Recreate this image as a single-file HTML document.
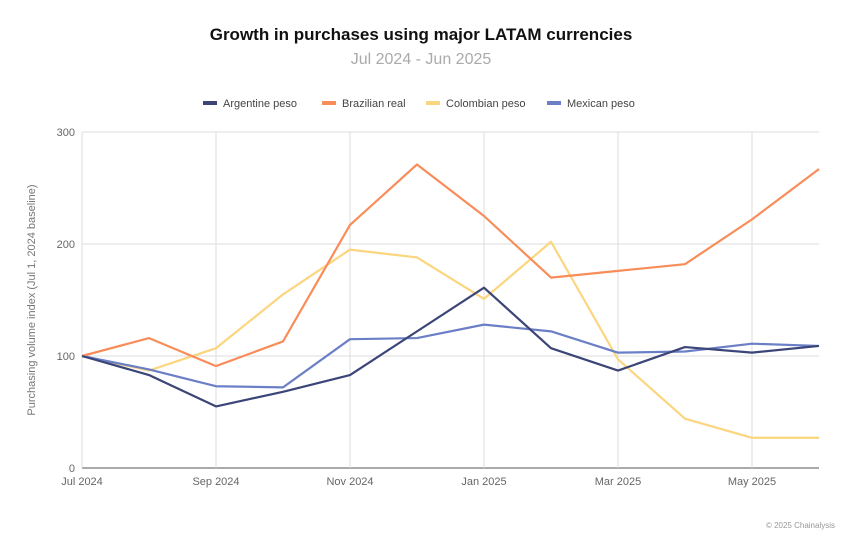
<!DOCTYPE html>
<html><head><meta charset="utf-8">
<style>
body{margin:0;background:#fff;font-family:"Liberation Sans",sans-serif;}
#wrap{position:relative;width:847px;height:552px;overflow:hidden;}
</style></head>
<body>
<div id="wrap">
<svg id="chart" width="847" height="552">
<text x="421" y="40" text-anchor="middle" font-size="17" font-weight="bold" fill="#111">Growth in purchases using major LATAM currencies</text>
<text x="421" y="64" text-anchor="middle" font-size="16" fill="#aaa">Jul 2024 - Jun 2025</text>
<g id="legend"></g>
<g id="grid"></g>
<g id="series"></g>
<text transform="translate(35,300) rotate(-90)" text-anchor="middle" font-size="11" fill="#777">Purchasing volume index (Jul 1, 2024 baseline)</text>
<text x="835" y="528" text-anchor="end" font-size="8" fill="#999">© 2025 Chainalysis</text>
</svg>
</div>
<script>
const months=["Jul 2024","Aug 2024","Sep 2024","Oct 2024","Nov 2024","Dec 2024","Jan 2025","Feb 2025","Mar 2025","Apr 2025","May 2025","Jun 2025"];
const tickLabels=["Jul 2024","Sep 2024","Nov 2024","Jan 2025","Mar 2025","May 2025"];
const yTicks=[0,100,200,300];
const seriesNames=["Argentine peso","Brazilian real","Colombian peso","Mexican peso"];
const argentine=[100,83,55,68,83,122,161,107,87,108,103,109];
const brazilian=[100,116,91,113,217,271,225,170,176,182,222,267];
const colombian=[100,87,107,155,195,188,151,202,97,44,27,27];
const mexican=[100,88,73,72,115,116,128,122,103,104,111,109];
const colors=["#3b4577","#f98d5a","#fcd57f","#6b7fc6"];
const NS="http://www.w3.org/2000/svg";
const x0=82,x1=819,yTop=132,yBot=468,yMax=300;
const xs=i=>x0+(x1-x0)*i/(months.length-1);
const ys=v=>yBot-(yBot-yTop)*v/yMax;
function mk(t,a,p){const e=document.createElementNS(NS,t);for(const k in a)e.setAttribute(k,a[k]);p.appendChild(e);return e;}
const grid=document.getElementById('grid');
yTicks.forEach(v=>{
 const l=mk('line',{x1:x0,x2:x1,y1:ys(v),y2:ys(v),stroke:v===0?'#555':'#ddd','stroke-width':1},grid);
 
 
 const t=mk('text',{x:x0-7,y:ys(v)+4,'text-anchor':'end','font-size':11,fill:'#666'},grid);
 t.textContent=v;
 
 
});
tickLabels.forEach(lb=>{
 const i=months.indexOf(lb);
 const l=mk('line',{x1:xs(i),x2:xs(i),y1:yTop,y2:yBot,stroke:'#ddd','stroke-width':1},grid);
 
 
 const t=mk('text',{x:xs(i),y:yBot+17,'text-anchor':'middle','font-size':11,fill:'#666'},grid);
 t.textContent=lb;
 
 
});
const data=[argentine,brazilian,colombian,mexican];
const sg=document.getElementById('series');
[2,3,1,0].forEach(s=>{
 const pts=data[s].map((v,i)=>xs(i)+','+ys(v)).join(' ');
 const p=mk('polyline',{points:pts,fill:'none',stroke:colors[s],'stroke-width':2.2,'stroke-linejoin':'round'},sg);
 
 
});
const lg=document.getElementById('legend');
const lx=[203,322,426,547];
seriesNames.forEach((n,s)=>{
 const r=mk('rect',{x:lx[s],y:101,width:14,height:4,fill:colors[s]},lg);
 
 
 const t=mk('text',{x:lx[s]+20,y:107,'font-size':11,fill:'#444'},lg);
 t.textContent=n;
 
 
});
</script>
</body></html>
